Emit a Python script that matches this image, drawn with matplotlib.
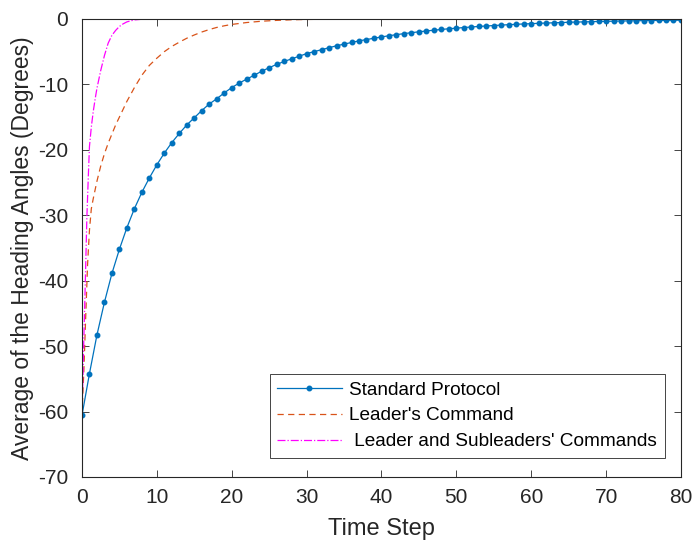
import numpy as np
import matplotlib
matplotlib.use('Agg')
import matplotlib.pyplot as plt

plt.rcParams['font.family'] = ['Liberation Sans', 'DejaVu Sans']
plt.rcParams['axes.unicode_minus'] = False

# standard protocol, one sample per time step
std_t = np.arange(0, 81)
std_v = [-60.6, -54.2, -48.3, -43.3, -38.9, -35.2, -31.9, -29.0, -26.5, -24.3,
         -22.3, -20.5, -18.9, -17.5, -16.2, -15.1, -14.0, -13.0, -12.2, -11.3,
         -10.5, -9.8, -9.2, -8.6, -8.0, -7.45, -6.95, -6.5, -6.1, -5.7,
         -5.3, -5.0, -4.7, -4.4, -4.1, -3.85, -3.6, -3.35, -3.15, -2.95,
         -2.75, -2.57, -2.4, -2.25, -2.1, -1.97, -1.84, -1.72, -1.61, -1.5,
         -1.41, -1.32, -1.23, -1.15, -1.08, -1.01, -0.94, -0.88, -0.82, -0.77,
         -0.72, -0.67, -0.63, -0.59, -0.55, -0.51, -0.48, -0.45, -0.42, -0.39,
         -0.37, -0.34, -0.32, -0.30, -0.28, -0.26, -0.24, -0.23, -0.21, -0.20,
         -0.19]

# leader's command
lead_t = [0, 0.25, 0.5, 0.75, 1.0, 1.25, 1.5, 2.0, 2.5, 3.0, 3.5, 4.0, 4.5,
          5.0, 5.5, 6.0, 7.0, 8.0, 9.0, 10, 11, 12, 13, 14, 15, 16, 17, 18,
          19, 20, 22, 24, 26, 28, 30, 35, 40, 80]
lead_v = [-60.5, -53.8, -45.5, -37.5, -32.3, -29.0, -27.5, -24.8, -22.5, -20.6,
          -19.0, -17.6, -16.2, -15.0, -13.8, -12.6, -10.5, -8.6, -7.1, -6.0,
          -5.0, -4.2, -3.55, -2.95, -2.45, -2.0, -1.62, -1.3, -1.05, -0.84,
          -0.55, -0.35, -0.22, -0.13, -0.08, -0.02, 0, 0]

# leader and subleaders' commands
sub_t = [0, 0.25, 0.45, 0.65, 0.85, 1.0, 1.25, 1.5, 1.75, 2.0, 2.5, 3.0, 3.5,
         4.0, 4.5, 5.0, 5.5, 6.0, 7.0, 8.0, 9.0, 80]
sub_v = [-60.5, -49.0, -40.0, -30.5, -24.0, -19.5, -16.5, -14.2, -12.3, -10.6,
         -7.9, -5.6, -3.7, -2.5, -1.75, -1.15, -0.75, -0.45, -0.15, -0.05, 0, 0]

fig = plt.figure(figsize=(6.97, 5.44), dpi=100)
ax = fig.add_axes([0.1176, 0.1232, 0.8594, 0.842])

ax.plot(std_t, std_v, '-', color='#0072BD', lw=0.9, marker='.', markersize=6.5,
        label='Standard Protocol')
ax.plot(lead_t, lead_v, '--', color='#D95319', lw=0.9, dashes=(5, 3.5),
        label="Leader's Command")
ax.plot(sub_t, sub_v, '-.', color='#FF00FF', lw=0.9,
        label=" Leader and Subleaders' Commands")

ax.set_xlim(0, 80)
ax.set_ylim(-70, 0)
ax.set_xticks(np.arange(0, 81, 10))
ax.set_yticks(np.arange(-70, 1, 10))
ax.tick_params(direction='in', top=True, right=True, length=5, width=0.6,
               labelsize=15, colors='#262626')
ax.tick_params(axis='x', pad=8)
ax.tick_params(axis='y', pad=10)
for s in ax.spines.values():
    s.set_linewidth(0.8)
    s.set_color('#262626')

ax.set_xlabel('Time Step', fontsize=17, color='#262626', labelpad=8)
ax.set_ylabel('Average of the Heading Angles (Degrees)', fontsize=16.5,
              color='#262626', labelpad=3)

leg = ax.legend(loc='lower right', bbox_to_anchor=(0.973, 0.0415),
                borderaxespad=0, fancybox=False, edgecolor='#262626',
                fontsize=13.7, handlelength=3.4, handletextpad=0.4,
                labelspacing=0.45, borderpad=0.4, framealpha=1)
leg.get_frame().set_linewidth(0.6)

fig.savefig('out.png', dpi=100)
